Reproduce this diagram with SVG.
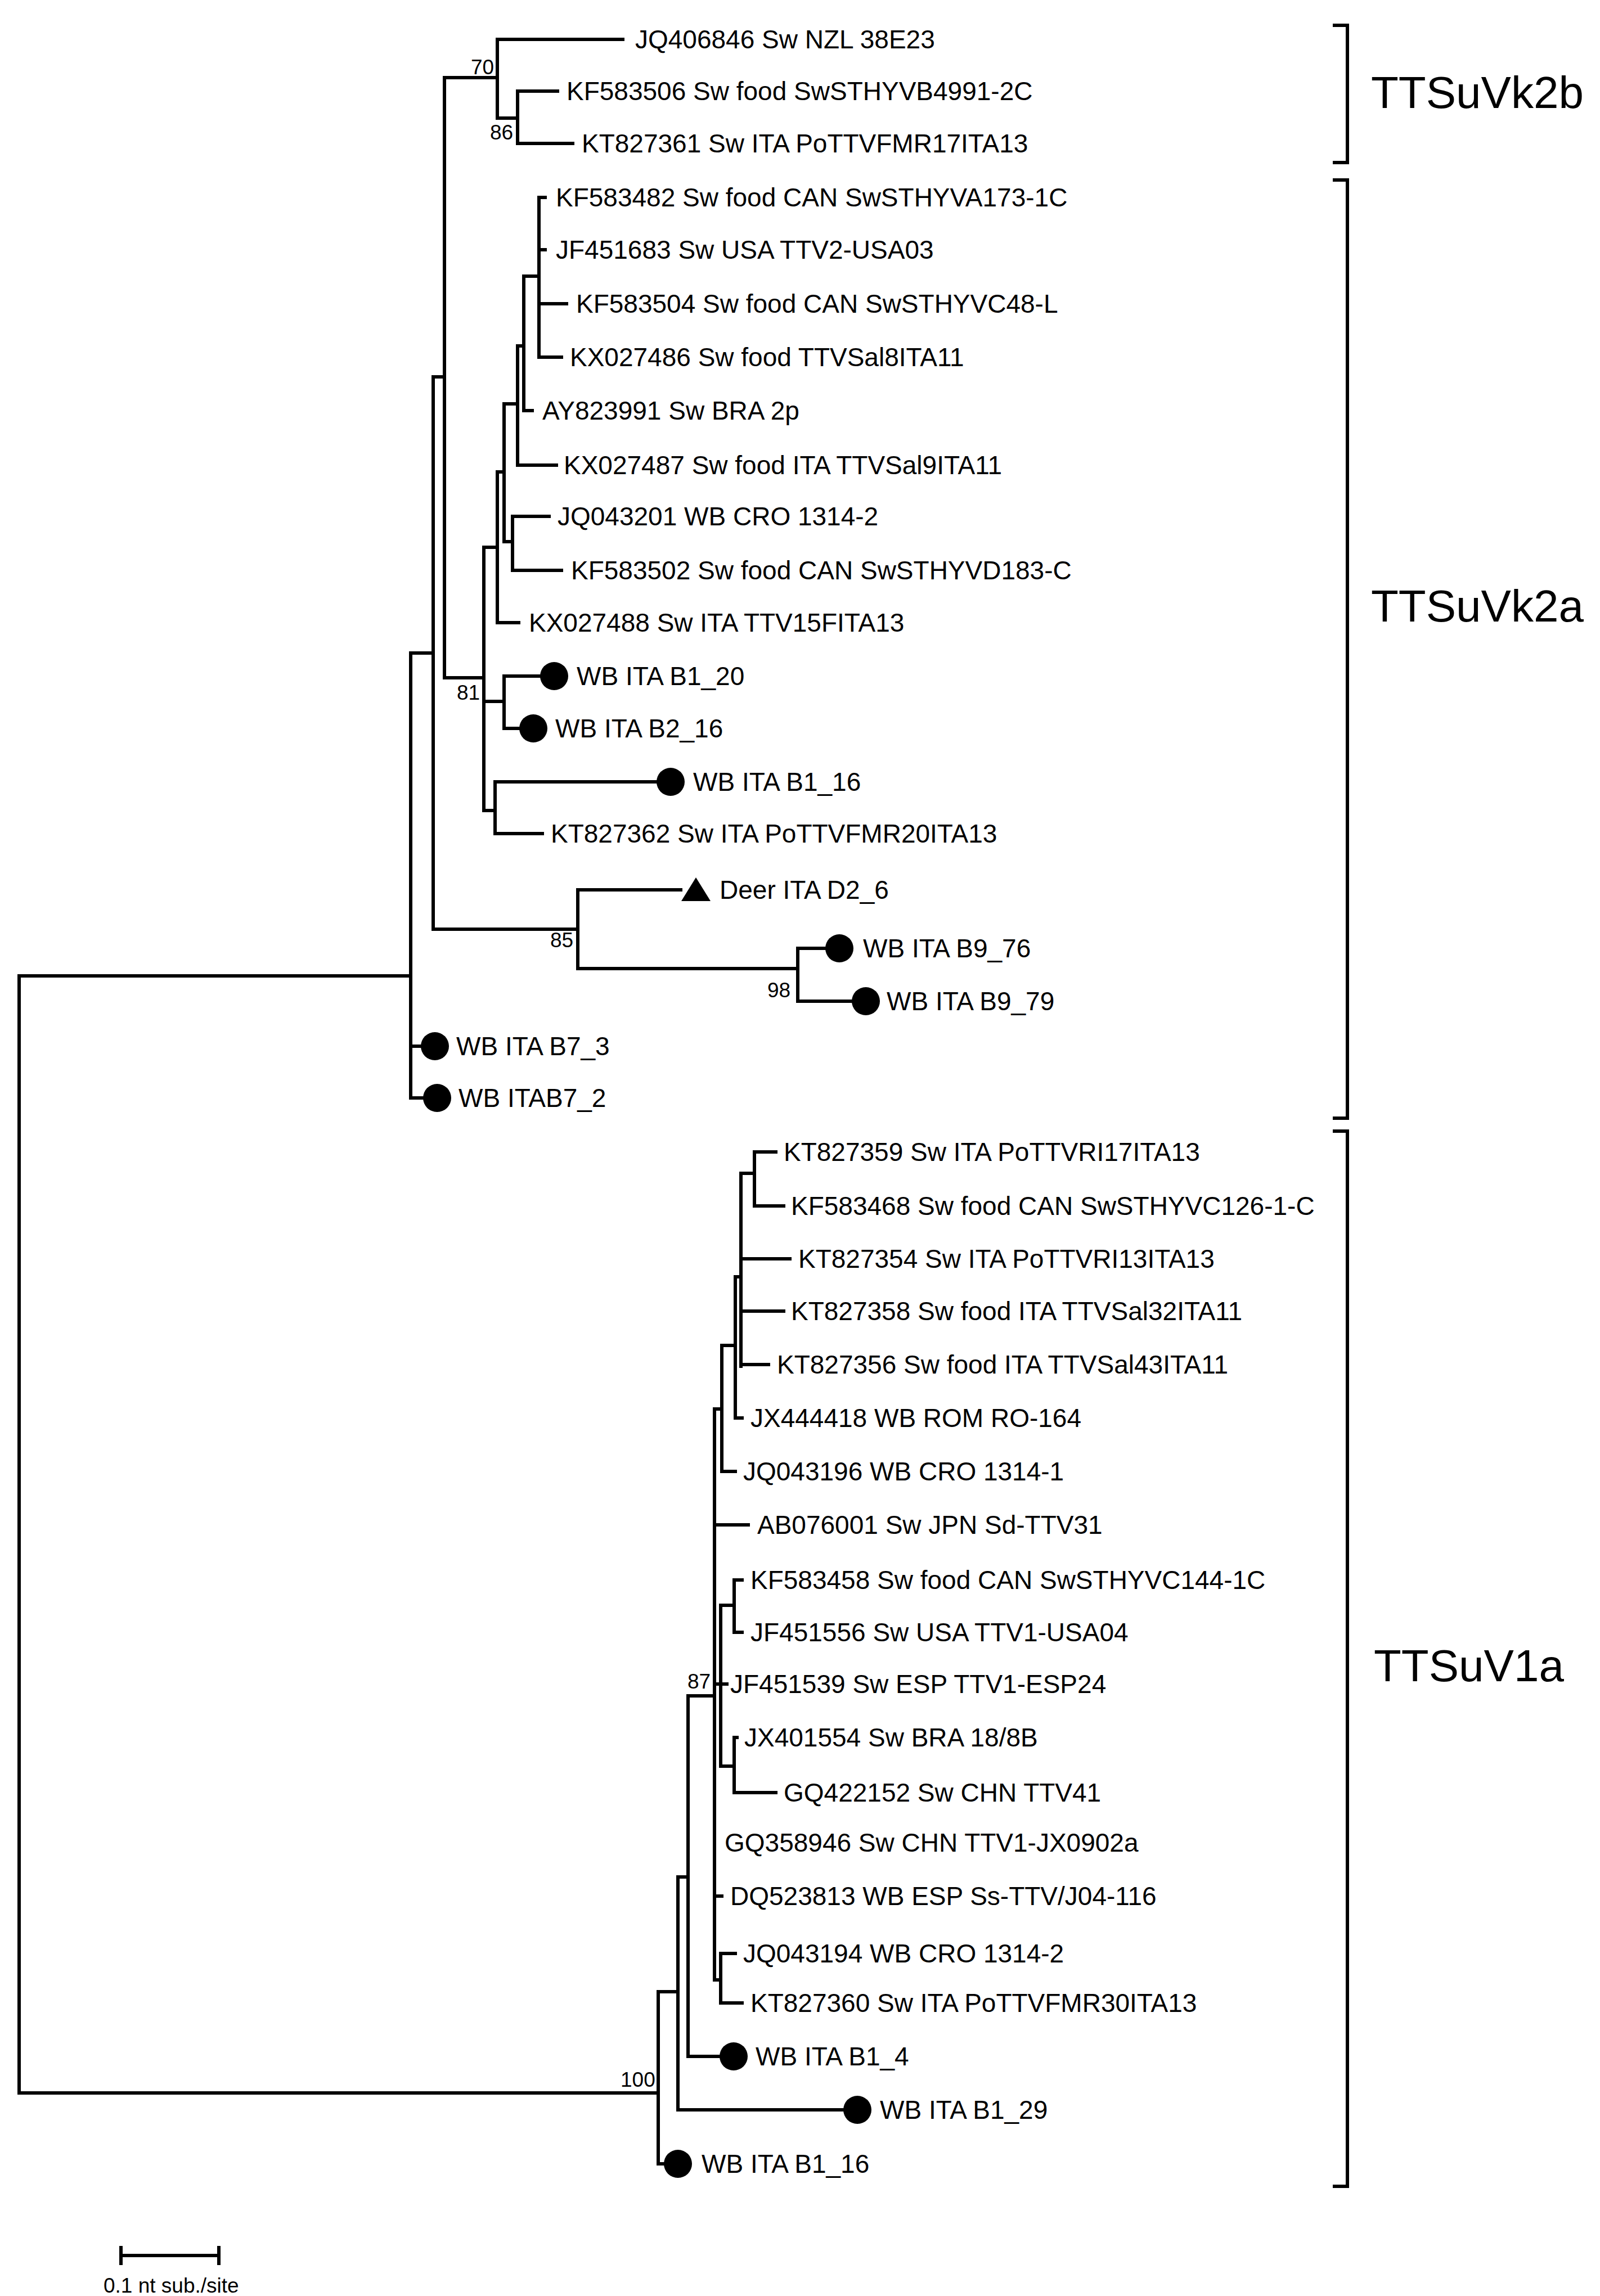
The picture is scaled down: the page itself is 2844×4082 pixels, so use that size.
<svg xmlns="http://www.w3.org/2000/svg" width="2844" height="4082" viewBox="0 0 2844 4082">
<style>
text{font-family:"Liberation Sans",Arial,sans-serif;fill:#000}
.l{font-size:46px}
.b{font-size:37px}
.c{font-size:80px}
.e{stroke:#000;stroke-width:6;fill:none;stroke-linecap:square}
</style>
<rect width="2844" height="4082" fill="#fff"/>
<g id="connectors" class="e">
<path d="M34 1735V3721M34 1735H730M34 3721H1170"/>
<path d="M730 1161V1952M730 1161H770M730 1860H750M730 1952H752"/>
<path d="M770 670V1652M770 670H790M770 1652H1027"/>
<path d="M790 138V1205M790 138H884M790 1205H860"/>
<path d="M884 70V210M884 70H1107M884 210H920"/>
<path d="M920 162V255M920 162H991M920 255H1018"/>
<path d="M860 973V1441M860 973H884M860 1247H896M860 1441H880"/>
<path d="M884 839V1107M884 839H896M884 1107H922"/>
<path d="M896 718V963M896 718H920M896 963H911"/>
<path d="M911 918V1014M911 918H976M911 1014H998"/>
<path d="M920 615V827M920 615H931M920 827H989"/>
<path d="M931 491V730M931 491H958M931 730H946"/>
<path d="M958 351V635M958 351H969M958 444H969M958 540H1007M958 635H998"/>
<path d="M896 1202V1295M896 1202H962M896 1295H925"/>
<path d="M880 1390V1482M880 1390H1168M880 1482H964"/>
<path d="M1027 1582V1722M1027 1582H1210M1027 1722H1418"/>
<path d="M1418 1686V1780M1418 1686H1470M1418 1780H1516"/>
<path d="M1170 3541V3847M1170 3541H1205M1170 3847H1181"/>
<path d="M1205 3337V3751M1205 3337H1223M1205 3751H1500"/>
<path d="M1223 3015V3656M1223 3015H1270M1223 3656H1280"/>
<path d="M1270 2505V3520M1270 2505H1283M1270 2711H1330M1270 2994H1292M1270 3371H1283M1270 3520H1281"/>
<path d="M1283 2392V2616M1283 2392H1307M1283 2616H1307"/>
<path d="M1307 2270V2521M1307 2270H1317M1307 2521H1319"/>
<path d="M1317 2086V2429M1317 2086H1341M1317 2238H1404M1317 2331H1393M1317 2426H1366"/>
<path d="M1341 2048V2144M1341 2048H1379M1341 2144H1393"/>
<path d="M1281 2854V3140M1281 2854H1305M1281 3140H1305"/>
<path d="M1305 2809V2902M1305 2809H1319M1305 2902H1319"/>
<path d="M1305 3089V3187M1305 3089H1310M1305 3187H1379"/>
<path d="M1281 3473V3561M1281 3473H1307M1281 3561H1319"/>
</g>
<g id="bootstrap" class="b">
<text x="837" y="132">70</text><text x="871" y="248">86</text><text x="812" y="1244">81</text>
<text x="978" y="1684">85</text><text x="1364" y="1773">98</text><text x="1222" y="3002">87</text><text x="1103" y="3710">100</text>
</g>
<g class="l">
<g id="n1"><text x="1129" y="86">JQ406846 Sw NZL 38E23</text></g>
<g id="n2"><text x="1007" y="178">KF583506 Sw food SwSTHYVB4991-2C</text></g>
<g id="n3"><text x="1034" y="271">KT827361 Sw ITA PoTTVFMR17ITA13</text></g>
<g id="n4"><text x="988" y="367">KF583482 Sw food CAN SwSTHYVA173-1C</text></g>
<g id="n5"><text x="988" y="460">JF451683 Sw USA TTV2-USA03</text></g>
<g id="n6"><text x="1024" y="556">KF583504 Sw food CAN SwSTHYVC48-L</text></g>
<g id="n7"><text x="1013" y="651">KX027486 Sw food TTVSal8ITA11</text></g>
<g id="n8"><text x="964" y="746">AY823991 Sw BRA 2p</text></g>
<g id="n9"><text x="1002" y="843">KX027487 Sw food ITA TTVSal9ITA11</text></g>
<g id="n10"><text x="991" y="934">JQ043201 WB CRO 1314-2</text></g>
<g id="n11"><text x="1015" y="1030">KF583502 Sw food CAN SwSTHYVD183-C</text></g>
<g id="n12"><text x="940" y="1123">KX027488 Sw ITA TTV15FITA13</text></g>
<g id="n13"><circle cx="985" cy="1202" r="25"/><text x="1025" y="1218">WB ITA B1_20</text></g>
<g id="n14"><circle cx="948" cy="1295" r="25"/><text x="987" y="1311">WB ITA B2_16</text></g>
<g id="n15"><circle cx="1192" cy="1390" r="25"/><text x="1232" y="1406">WB ITA B1_16</text></g>
<g id="n16"><text x="979" y="1498">KT827362 Sw ITA PoTTVFMR20ITA13</text></g>
<g id="n17"><polygon points="1211,1602 1263,1602 1237,1560"/><text x="1279" y="1598">Deer ITA D2_6</text></g>
<g id="n18"><circle cx="1492" cy="1686" r="25"/><text x="1534" y="1702">WB ITA B9_76</text></g>
<g id="n19"><circle cx="1539" cy="1780" r="25"/><text x="1576" y="1796">WB ITA B9_79</text></g>
<g id="n20"><circle cx="773" cy="1860" r="25"/><text x="811" y="1876">WB ITA B7_3</text></g>
<g id="n21"><circle cx="777" cy="1952" r="25"/><text x="815" y="1968">WB ITAB7_2</text></g>
<g id="n22"><text x="1393" y="2064">KT827359 Sw ITA PoTTVRI17ITA13</text></g>
<g id="n23"><text x="1406" y="2160">KF583468 Sw food CAN SwSTHYVC126-1-C</text></g>
<g id="n24"><text x="1419" y="2254">KT827354 Sw ITA PoTTVRI13ITA13</text></g>
<g id="n25"><text x="1406" y="2347">KT827358 Sw food ITA TTVSal32ITA11</text></g>
<g id="n26"><text x="1381" y="2442">KT827356 Sw food ITA TTVSal43ITA11</text></g>
<g id="n27"><text x="1334" y="2537">JX444418 WB ROM RO-164</text></g>
<g id="n28"><text x="1321" y="2632">JQ043196 WB CRO 1314-1</text></g>
<g id="n29"><text x="1346" y="2727">AB076001 Sw JPN Sd-TTV31</text></g>
<g id="n30"><text x="1334" y="2825">KF583458 Sw food CAN SwSTHYVC144-1C</text></g>
<g id="n31"><text x="1334" y="2918">JF451556 Sw USA TTV1-USA04</text></g>
<g id="n32"><text x="1298" y="3010">JF451539 Sw ESP TTV1-ESP24</text></g>
<g id="n33"><text x="1323" y="3105">JX401554 Sw BRA 18/8B</text></g>
<g id="n34"><text x="1393" y="3203">GQ422152 Sw CHN TTV41</text></g>
<g id="n35"><text x="1288" y="3292">GQ358946 Sw CHN TTV1-JX0902a</text></g>
<g id="n36"><text x="1298" y="3387">DQ523813 WB ESP Ss-TTV/J04-116</text></g>
<g id="n37"><text x="1321" y="3489">JQ043194 WB CRO 1314-2</text></g>
<g id="n38"><text x="1334" y="3577">KT827360 Sw ITA PoTTVFMR30ITA13</text></g>
<g id="n39"><circle cx="1304" cy="3656" r="25"/><text x="1343" y="3672">WB ITA B1_4</text></g>
<g id="n40"><circle cx="1524" cy="3751" r="25"/><text x="1564" y="3767">WB ITA B1_29</text></g>
<g id="n41"><circle cx="1205" cy="3847" r="25"/><text x="1247" y="3863">WB ITA B1_16</text></g>
</g>
<g id="clades" class="e">
<path d="M2372 45H2395V289H2372"/>
<path d="M2372 320H2395V1988H2372"/>
<path d="M2372 2011H2395V3887H2372"/>
</g>
<g class="c">
<text x="2437" y="192">TTSuVk2b</text>
<text x="2437" y="1105">TTSuVk2a</text>
<text x="2442" y="2989">TTSuV1a</text>
</g>
<g id="scale">
<path class="e" d="M215 4010H389M215 3996V4024M389 3996V4024"/>
<text x="184" y="4076" font-size="37">0.1 nt sub./site</text>
</g>
</svg>
